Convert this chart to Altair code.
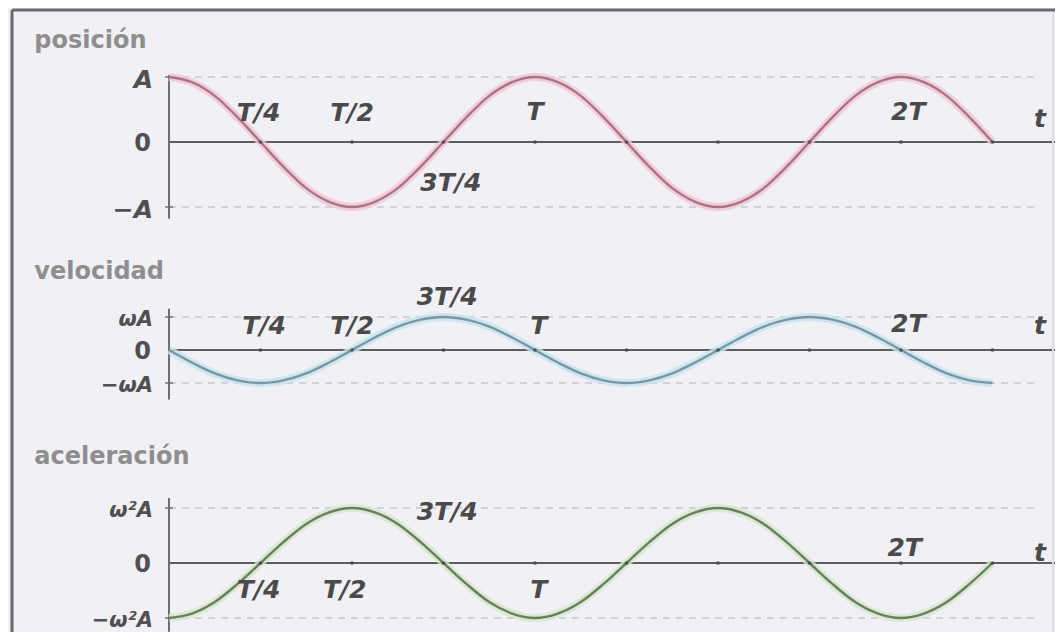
import altair as alt
import pandas as pd

# ---- data, t in units of the period T ----
t_vals = [i / 16 for i in range(37)]  # 0 .. 9T/4 in steps of T/16
posicion = [1, .92, .71, .38, 0, -.38, -.71, -.92, -1, -.92, -.71, -.38, 0, .38, .71, .92,
            1, .92, .71, .38, 0, -.38, -.71, -.92, -1, -.92, -.71, -.38, 0, .38, .71, .92,
            1, .92, .71, .38, 0]
velocidad = [0, -.38, -.71, -.92, -1, -.92, -.71, -.38, 0, .38, .71, .92, 1, .92, .71, .38,
             0, -.38, -.71, -.92, -1, -.92, -.71, -.38, 0, .38, .71, .92, 1, .92, .71, .38,
             0, -.38, -.71, -.92, -1]
aceleracion = [-1, -.92, -.71, -.38, 0, .38, .71, .92, 1, .92, .71, .38, 0, -.38, -.71, -.92,
               -1, -.92, -.71, -.38, 0, .38, .71, .92, 1, .92, .71, .38, 0, -.38, -.71, -.92,
               -1, -.92, -.71, -.38, 0]
tick_t = [0.25, 0.5, 0.75, 1.0, 1.25, 1.5, 1.75, 2.0, 2.25]

titles = ["posición", "velocidad", "aceleración"]
ylabels_top = ["A", "ωA", "ω²A"]
ylabels_bot = ["−A", "−ωA", "−ω²A"]

# time labels per panel: (text, t, value)
tlabels = [
    [("T/4", 0.245, 0.45), ("T/2", 0.50, 0.45), ("T", 1.00, 0.46),
     ("2T", 2.02, 0.46), ("3T/4", 0.77, -0.63), ("t", 2.38, 0.36)],
    [("3T/4", 0.76, 1.62), ("T/4", 0.26, 0.72), ("T/2", 0.50, 0.72),
     ("T", 1.01, 0.72), ("2T", 2.02, 0.80), ("t", 2.38, 0.72)],
    [("3T/4", 0.76, 0.92), ("T/4", 0.245, -0.49), ("T/2", 0.48, -0.49),
     ("T", 1.01, -0.49), ("2T", 2.01, 0.28), ("t", 2.38, 0.18)],
]

# ---- layout ----
W, H = 1047, 624
X0, TPX = 161, 366
XDOM = [-X0 / TPX, (W - X0) / TPX]
xs = alt.Scale(domain=XDOM, nice=False, zero=False)

panels = [
    dict(vals=posicion, rng=[199, 69], core="#a87486", halo="#f3c6d5",
         vaxis=(1.03, -1.18), title_v=1.55),
    dict(vals=velocidad, rng=[375, 309], core="#7896a3", halo="#c4e3ef",
         vaxis=(1.25, -1.5), title_v=2.36),
    dict(vals=aceleracion, rng=[610, 500], core="#6a7c62", halo="#d3e7c9",
         vaxis=(1.18, -1.25), title_v=1.92),
]

layers = []
for i, p in enumerate(panels):
    ys = alt.Scale(domain=[-1, 1], range=p["rng"], nice=False, zero=False)
    X = lambda f: alt.X(f, type="quantitative", scale=xs, axis=None)
    Y = lambda f: alt.Y(f, type="quantitative", scale=ys, axis=None)

    grid = pd.DataFrame({"a": [0, 0], "b": [2.38, 2.38], "v": [1, -1]})
    layers.append(alt.Chart(grid).mark_rule(color="#c9c5cf", strokeWidth=1.5,
                                            strokeDash=[7, 6]).encode(
        x=X("a"), x2="b", y=Y("v")))

    zero = pd.DataFrame({"a": [0], "b": [XDOM[1]], "v": [0]})
    layers.append(alt.Chart(zero).mark_rule(color="#5e5e5e", strokeWidth=2).encode(
        x=X("a"), x2="b", y=Y("v")))

    vax = pd.DataFrame({"t": [0], "v1": [p["vaxis"][0]], "v2": [p["vaxis"][1]]})
    layers.append(alt.Chart(vax).mark_rule(color="#6e6e6e", strokeWidth=2).encode(
        x=X("t"), y=Y("v1"), y2="v2"))

    ticks = pd.DataFrame({"t": [0, 0], "v": [1, -1]})
    layers.append(alt.Chart(ticks).mark_tick(color="#6e6e6e", orient="horizontal",
                                             size=8, thickness=2).encode(
        x=X("t"), y=Y("v")))

    curve = pd.DataFrame({"t": t_vals, "v": p["vals"]})
    layers.append(alt.Chart(curve).mark_line(color=p["halo"], strokeWidth=8,
                                             opacity=0.8, interpolate="monotone").encode(
        x=X("t"), y=Y("v")))
    layers.append(alt.Chart(curve).mark_line(color=p["core"], strokeWidth=2.4,
                                             interpolate="monotone").encode(
        x=X("t"), y=Y("v")))

    dots = pd.DataFrame({"t": tick_t, "v": [0] * len(tick_t)})
    layers.append(alt.Chart(dots).mark_point(filled=True, color="#444444", size=14,
                                             opacity=0.8).encode(
        x=X("t"), y=Y("v")))

    tl = pd.DataFrame(tlabels[i], columns=["lab", "t", "v"])
    layers.append(alt.Chart(tl).mark_text(font="DejaVu Sans", fontStyle="italic",
                                          fontWeight="bold",
                                          fontSize=25, color="#4a4a4a",
                                          align="center", baseline="middle").encode(
        x=X("t"), y=Y("v"), text="lab"))

    yl = pd.DataFrame({"lab": [ylabels_top[i], ylabels_bot[i]], "t": [0, 0],
                       "v": [1.0, -1.0]})
    layers.append(alt.Chart(yl).mark_text(font="DejaVu Sans", fontStyle="italic",
                                          fontWeight="bold",
                                          fontSize=25 if i == 0 else 21,
                                          color="#505050", align="right",
                                          baseline="middle", dx=-16, dy=3).encode(
        x=X("t"), y=Y("v"), text="lab"))

    z = pd.DataFrame({"lab": ["0"], "t": [0], "v": [0]})
    layers.append(alt.Chart(z).mark_text(font="DejaVu Sans", fontSize=24,
                                         fontWeight="bold",
                                         color="#505050", align="right",
                                         baseline="middle", dx=-18, dy=2).encode(
        x=X("t"), y=Y("v"), text="lab"))

    tt = pd.DataFrame({"lab": [titles[i]], "t": [-0.368], "v": [p["title_v"]]})
    layers.append(alt.Chart(tt).mark_text(font="DejaVu Sans", fontSize=24,
                                          fontWeight="bold", color="#8e8e8e",
                                          align="left", baseline="middle").encode(
        x=X("t"), y=Y("v"), text="lab"))

# frame (decoration)
one = alt.Data(values=[{}])
layers.append(alt.Chart(one).mark_rule(color="#6a6a6a", strokeWidth=3).encode(
    x=alt.value(4), y=alt.value(2), y2=alt.value(H)))
layers.append(alt.Chart(one).mark_rule(color="#6a6a6a", strokeWidth=3).encode(
    x=alt.value(4), x2=alt.value(W + 8), y=alt.value(2)))
layers.append(alt.Chart(one).mark_rule(color="#dcdbe2", strokeWidth=2).encode(
    x=alt.value(W - 2), y=alt.value(4), y2=alt.value(H)))

chart = alt.layer(*layers).resolve_scale(y="independent").properties(
    width=W, height=H, padding=0,
    autosize=alt.AutoSizeParams(type="none"),
    background="#f7f7f9",
).configure_view(stroke=None, fill="#f1f0f5")

chart.save("out.html", embed_options={"renderer": "svg", "actions": False})
